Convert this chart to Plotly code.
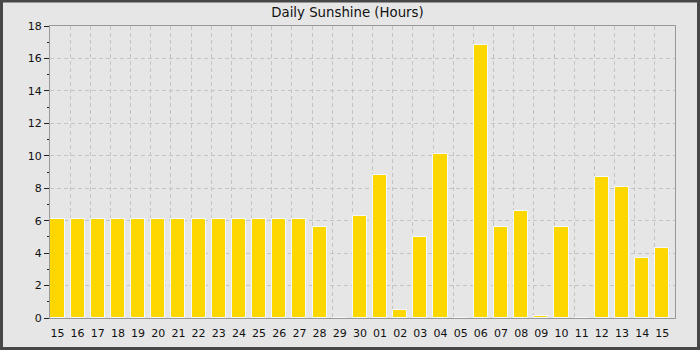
import plotly.graph_objects as go

days = ["15", "16", "17", "18", "19", "20", "21", "22", "23", "24", "25", "26", "27", "28", "29", "30",
        "01", "02", "03", "04", "05", "06", "07", "08", "09", "10", "11", "12", "13", "14", "15"]
sunshine = [6.1, 6.1, 6.1, 6.1, 6.1, 6.1, 6.1, 6.1, 6.1, 6.1, 6.1, 6.1, 6.1, 5.6, 0.0, 6.3,
            8.8, 0.5, 5.0, 10.1, 0.0, 16.8, 5.6, 6.6, 0.1, 5.6, 0.0, 8.7, 8.1, 3.7, 4.3]
y_ticks = [0, 2, 4, 6, 8, 10, 12, 14, 16, 18]

BAR_W = 0.70
BAR_OFF = 0.02
pos = [i for i in range(len(days))]
centers = [p + BAR_OFF + BAR_W / 2 for p in pos]

W, H = 700, 350
ML, MR, MT, MB = 50, 25, 26, 32
pw, ph = W - ML - MR, H - MT - MB

fig = go.Figure()
fig.add_trace(go.Bar(
    x=pos, y=sunshine, width=BAR_W, offset=BAR_OFF,
    marker=dict(color="#FFD700", line=dict(color="#f4f8ff", width=1)),
    hoverinfo="y",
))

bg = "#e6e6e6"
fig.update_layout(
    width=W, height=H,
    margin=dict(l=ML, r=MR, t=MT, b=MB, pad=0, autoexpand=False),
    paper_bgcolor=bg, plot_bgcolor=bg,
    showlegend=False,
    font=dict(family="DejaVu Sans", size=11, color="#111"),
    title=dict(text="Daily Sunshine (Hours)", x=0.4964, xanchor="center", y=1 - 12 / H, yanchor="middle",
               font=dict(family="DejaVu Sans", size=13.3, color="#111"), automargin=False),
    bargap=0,
)
fig.update_xaxes(
    range=[0, len(days)], tickmode="array", tickvals=centers, ticktext=days,
    showgrid=False, zeroline=False, showline=True, linecolor="#999999", linewidth=1, mirror=True,
    ticks="outside", ticklen=5, tickcolor="rgba(0,0,0,0)", automargin=False,
    tickfont=dict(family="DejaVu Sans", size=11, color="#111"),
    minor=dict(tickmode="linear", tick0=0, dtick=1, showgrid=True, gridcolor="#c4c4c4",
               griddash="4px,3px", gridwidth=1, ticks=""),
    fixedrange=True,
)
fig.update_yaxes(
    range=[0, 18], tickmode="array", tickvals=y_ticks,
    showgrid=True, gridcolor="#c4c4c4", griddash="4px,3px", gridwidth=1,
    zeroline=False, showline=True, linecolor="#999999", linewidth=1, mirror=True,
    ticks="outside", ticklen=5, tickcolor="#222222", tickwidth=1, automargin=False,
    tickfont=dict(family="DejaVu Sans", size=11, color="#111"),
    minor=dict(tickmode="linear", tick0=1, dtick=2, ticks="outside", ticklen=2, tickcolor="#222222",
               showgrid=False),
    fixedrange=True,
)
# outer frame
fig.add_shape(type="rect", xref="paper", yref="paper",
              x0=-(ML - 1.5) / pw, x1=1 + (MR - 1.5) / pw,
              y0=-(MB - 1.5) / ph, y1=1 + (MT - 1.0) / ph,
              line=dict(color="#474747", width=3), fillcolor="rgba(0,0,0,0)", layer="above")

fig.write_html("out.html")
